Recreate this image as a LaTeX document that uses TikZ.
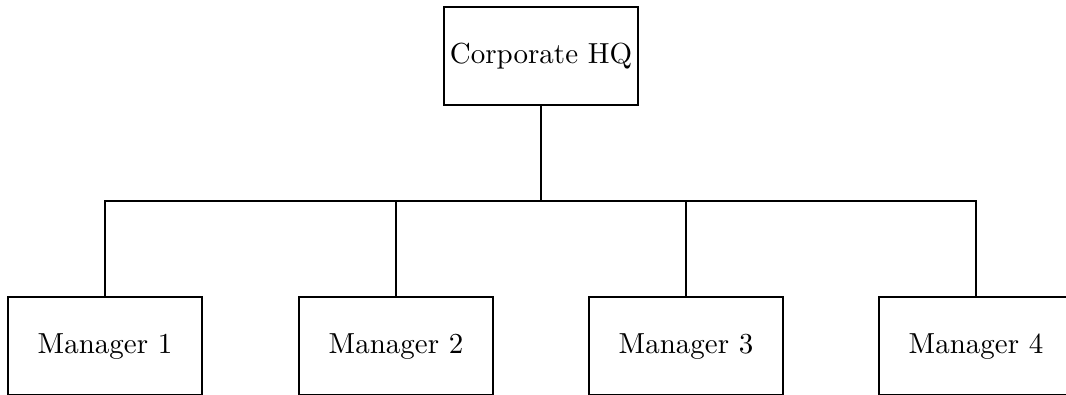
\documentclass[tikz,border=0pt]{standalone}
\begin{document}
\begin{tikzpicture}[x=0.352pt,y=-0.352pt,
  box/.style={draw,line width=0.7pt,minimum width=194*0.352pt,minimum height=98*0.352pt,inner sep=0pt,font=\fontsize{10.2}{12}\selectfont},
  conn/.style={line width=0.7pt}]
\useasboundingbox (0,0) rectangle (1066,395);
\node[box] (hq) at (541,56) {Corporate HQ};
\node[box] (m1) at (105,346.5) {Manager 1};
\node[box] (m2) at (396,346.5) {Manager 2};
\node[box] (m3) at (686,346.5) {Manager 3};
\node[box] (m4) at (976,346.5) {Manager 4};
\coordinate (bus) at (541,201);
\draw[conn] (hq.south) -- (bus);
\draw[conn] (bus) -| (m1.north);
\draw[conn] (bus) -| (m2.north);
\draw[conn] (bus) -| (m3.north);
\draw[conn] (bus) -| (m4.north);
\end{tikzpicture}
\end{document}
